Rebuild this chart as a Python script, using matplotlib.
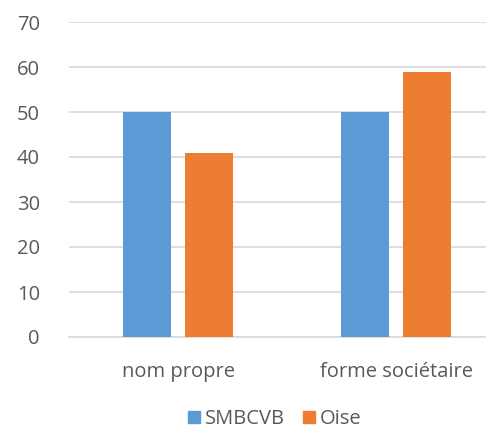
import numpy as np
from matplotlib import pyplot as plt
from matplotlib.patches import Patch

categories = ['nom propre', 'forme sociétaire']
smbcvb = [50, 50]
oise = [41, 59]
series_names = ['SMBCVB', 'Oise']

plt.rcParams['font.family'] = ['Open Sans', 'DejaVu Sans']

fig = plt.figure(figsize=(4.86, 4.3), dpi=100)
ax = fig.add_axes([69/486, 93/430, 417/486, 315/430])

x = np.arange(len(categories))
width = 0.22
offset = 0.142
ax.bar(x - offset, smbcvb, width, color='#5B9BD5', zorder=3)
ax.bar(x + offset, oise, width, color='#ED7D31', zorder=3)

ax.set_ylim(0, 70)
ax.set_yticks(np.arange(0, 71, 10))
ax.set_xlim(-0.5, -0.5 + 417/218)
ax.set_xticks(x)
ax.set_xticklabels(categories)
ax.grid(axis='y', color='#D9D9D9', linewidth=1.2, zorder=0)
ax.tick_params(length=0, labelsize=14.5, colors='#595959')
ax.tick_params(axis='y', pad=21)
ax.tick_params(axis='x', pad=18)
for s in ['top', 'right', 'left']:
    ax.spines[s].set_visible(False)
ax.spines['bottom'].set_color('#D9D9D9')
ax.spines['bottom'].set_linewidth(1.2)

handles = [Patch(color='#5B9BD5'), Patch(color='#ED7D31')]
fig.legend(handles, series_names, loc='center', bbox_to_anchor=(0.565, 11/430),
           ncol=2, frameon=False, fontsize=14.5, handlelength=0.6, handleheight=0.6,
           handletextpad=0.25, columnspacing=0.9, labelcolor='#595959',
           borderpad=0.2)

fig.savefig('out.png', dpi=100)
